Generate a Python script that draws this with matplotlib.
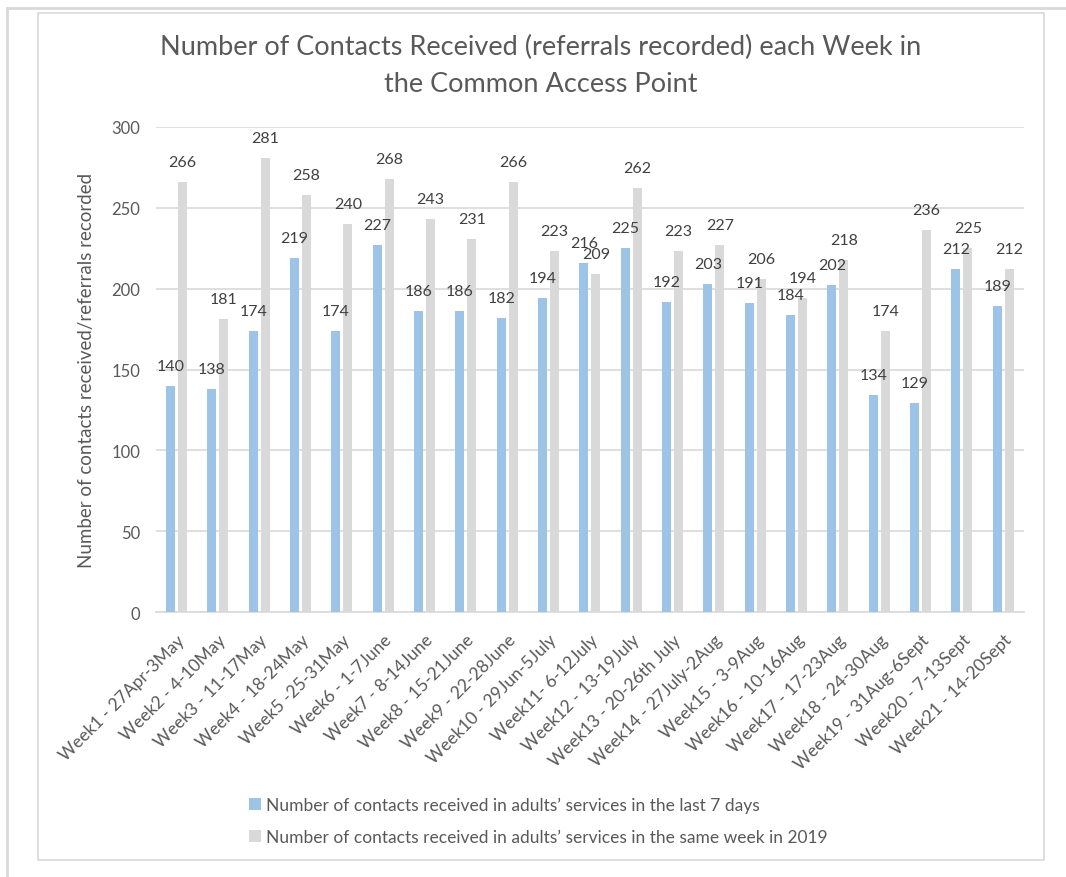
import numpy as np
import matplotlib.pyplot as plt
from matplotlib.patches import Rectangle
from matplotlib.lines import Line2D

plt.rcParams['font.family'] = ['Lato', 'DejaVu Sans']

weeks = [
    "Week1 - 27Apr-3May", "Week2 - 4-10May", "Week3 - 11-17May", "Week4 - 18-24May",
    "Week5 -25-31May", "Week6 - 1-7June", "Week7 - 8-14June", "Week8 - 15-21June",
    "Week9 - 22-28June", "Week10 - 29Jun-5July", "Week11- 6-12July", "Week12 - 13-19July",
    "Week13 - 20-26th July", "Week14 - 27July-2Aug", "Week15 - 3-9Aug", "Week16 - 10-16Aug",
    "Week17 - 17-23Aug", "Week18 - 24-30Aug", "Week19 - 31Aug-6Sept", "Week20 - 7-13Sept",
    "Week21 - 14-20Sept",
]
last_7_days = [140, 138, 174, 219, 174, 227, 186, 186, 182, 194, 216,
               225, 192, 203, 191, 184, 202, 134, 129, 212, 189]
same_week_2019 = [266, 181, 281, 258, 240, 268, 243, 231, 266, 223, 209,
                  262, 223, 227, 206, 194, 218, 174, 236, 225, 212]

label_blue = "Number of contacts received in adults\u2019 services in the last 7 days"
label_grey = "Number of contacts received in adults\u2019 services in the same week in 2019"

BLUE = '#9DC3E6'
GREY = '#D9D9D9'
TEXT = '#595959'

fig = plt.figure(figsize=(10.66, 8.78), dpi=100)

# frame lines around the picture
W, H = 1066, 878
fig.add_artist(Line2D([7 / W, 1], [1 - 9 / H, 1 - 9 / H], color='#D9D9D9', lw=2))
fig.add_artist(Line2D([7 / W, 7 / W], [0, 1 - 9 / H], color='#D9D9D9', lw=2))
fig.add_artist(Rectangle((38 / W, 1 - 861 / H), (1044 - 38) / W, (861 - 14) / H,
                         fill=False, edgecolor='#D9D9D9', lw=1.2))

ax = fig.add_axes([155.8 / W, 1 - 613 / H, (1023.8 - 155.8) / W, (613 - 128) / H])

x = np.arange(len(weeks))
w = 0.22
off = 0.145
b1 = ax.bar(x - off, last_7_days, w, color=BLUE, label=label_blue, zorder=3)
b2 = ax.bar(x + off, same_week_2019, w, color=GREY, label=label_grey, zorder=3)

for bars, vals in ((b1, last_7_days), (b2, same_week_2019)):
    for r, v in zip(bars, vals):
        ax.annotate(str(v), (r.get_x() + r.get_width() / 2, v), xytext=(0, 14.4),
                    textcoords='offset points', ha='center', va='center',
                    fontsize=11.5, color='#404040', zorder=4)

ax.set_xlim(-0.5, len(weeks) - 0.5)
ax.set_ylim(0, 300)
ax.set_yticks(range(0, 301, 50))
ax.yaxis.grid(True, color='#D9D9D9', lw=1.2, zorder=0)
ax.set_axisbelow(True)
for s in ['top', 'right', 'left']:
    ax.spines[s].set_visible(False)
ax.spines['bottom'].set_color('#D9D9D9')
ax.spines['bottom'].set_linewidth(1.2)
ax.tick_params(axis='both', length=0, labelsize=12, colors=TEXT)
ax.tick_params(axis='y', pad=11)
ax.set_xticks(x)
ax.set_xticklabels(weeks, rotation=45, ha='right', rotation_mode='anchor', fontsize=12.5)
ax.tick_params(axis='x', pad=14)

ax.set_ylabel("Number of contacts received/referrals recorded", fontsize=13.5,
              color=TEXT, labelpad=12)

fig.text(0.507, 1 - 47 / H, "Number of Contacts Received (referrals recorded) each Week in",
         ha='center', va='center', fontsize=19.5, color=TEXT)
fig.text(0.507, 1 - 85 / H, "the Common Access Point",
         ha='center', va='center', fontsize=19.5, color=TEXT)

fig.legend(handles=[b1, b2], loc='upper left', bbox_to_anchor=(233 / W, 1 - 782 / H),
           frameon=False, fontsize=12.5, labelcolor=TEXT, handlelength=0.7,
           handleheight=0.7, handletextpad=0.3, labelspacing=0.95)

fig.savefig('out.png', dpi=100)
